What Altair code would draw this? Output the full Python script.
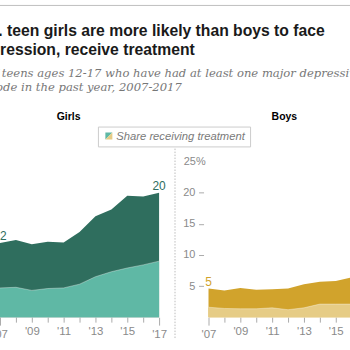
import altair as alt
import pandas as pd

# ---- data ----
years = list(range(2007, 2018))
girls_total = [11.9, 12.4, 11.7, 12.1, 12.0, 13.7, 16.2, 17.3, 19.5, 19.4, 20.0]
girls_treat = [4.7, 4.8, 4.3, 4.6, 4.7, 5.3, 6.5, 7.3, 7.9, 8.4, 9.0]
boys_total = [4.6, 4.3, 4.7, 4.4, 4.5, 4.6, 5.3, 5.7, 5.8, 6.4, 6.8]
boys_treat = [1.6, 1.4, 1.35, 1.35, 1.5, 1.2, 1.5, 2.1, 2.1, 2.1, 2.2]
y_ticks = [5, 10, 15, 20, 25]

title_lines = ["U.S. teen girls are more likely than boys to face",
               "depression, receive treatment"]
subtitle_lines = ["% of teens ages 12-17 who have had at least one major depressive",
                  "episode in the past year, 2007-2017"]
legend_label = "Share receiving treatment"

GIRLS_DARK, GIRLS_LIGHT = "#2f6e5e", "#5fb8a5"
BOYS_DARK, BOYS_LIGHT = "#d1a32c", "#e6cc86"
AXIS_GRAY = "#8a8a8a"
TICK_GRAY = "#aaaaaa"
SANS = "Liberation Sans"

W, H = 160, 156.5

x_label_expr = "datum.value % 2 == 1 ? \"'\" + substring(toString(datum.value), 2, 4) : ''"


def x_enc():
    return alt.X(
        "year:Q",
        title=None,
        scale=alt.Scale(domain=[2007, 2017], nice=False, zero=False),
        axis=alt.Axis(
            values=years, labelExpr=x_label_expr, domain=False, grid=False,
            tickColor=TICK_GRAY,
            tickSize={"condition": {"test": "datum.value == 2007 || datum.value == 2017", "value": 8}, "value": 5},
            labelColor=AXIS_GRAY, labelFont=SANS, labelFontSize=11.5,
            labelPadding=3, labelFlush=False, labelOverlap=False, labelBound=False,
        ),
    )


def y_enc(field, show_axis):
    if show_axis:
        axis = alt.Axis(
            values=y_ticks, domain=False, grid=False, offset=5, tickSize=5,
            tickColor=TICK_GRAY,
            tickOpacity={"condition": {"test": "datum.value == 25", "value": 0}, "value": 1},
            labelExpr="datum.value == 25 ? '25%' : datum.label",
            labelAlign={"condition": {"test": "datum.value == 25", "value": "left"}, "value": "right"},
            labelPadding={"condition": {"test": "datum.value == 25", "value": 15.4}, "value": 3.7},
            labelColor=AXIS_GRAY, labelFont=SANS, labelFontSize=11,
        )
    else:
        axis = None
    return alt.Y(field, title=None, scale=alt.Scale(domain=[0, 25], nice=False), axis=axis)


def panel(name, total, treat, dark, light, show_axis, title_dx, title_offset):
    df = pd.DataFrame({"year": years, "total": total, "treat": treat})
    base = alt.Chart(df)
    a_total = base.mark_area(color=dark).encode(x=x_enc(), y=y_enc("total:Q", show_axis))
    a_treat = base.mark_area(color=light).encode(x=x_enc(), y=y_enc("treat:Q", show_axis))
    edge = base.mark_line(color="white", strokeWidth=0.8, opacity=0.45).encode(
        x=x_enc(), y=y_enc("treat:Q", show_axis))
    labels = base.transform_filter(
        "datum.year == 2007 || datum.year == 2017"
    ).transform_calculate(
        lab="format(datum.total, '.0f')"
    ).mark_text(color=dark, font=SANS, fontSize=12, dy=-7, align="center").encode(
        x=x_enc(), y=y_enc("total:Q", show_axis), text="lab:N")
    layers = [a_total, a_treat, edge, labels]
    return layers, dict(
        width=W, height=H,
        title=alt.TitleParams(name, font=SANS, fontSize=10.5, fontWeight="bold", color="#000000",
                              anchor="middle", dx=title_dx, offset=title_offset),
    )


g_layers, g_props = panel("Girls", girls_total, girls_treat, GIRLS_DARK, GIRLS_LIGHT, False, -11, 38.8)
b_layers, b_props = panel("Boys", boys_total, boys_treat, BOYS_DARK, BOYS_LIGHT, True, -3.7, 3.6)

leg_df = pd.DataFrame({"t": [legend_label]})
leg = alt.Chart(leg_df)
leg_box = leg.mark_rect(fill="white", stroke="#cccccc", strokeWidth=1).encode(
    x=alt.value(-110.7), x2=alt.value(42.3), y=alt.value(-34.7), y2=alt.value(-14.7))
sw1 = leg.mark_point(shape="M-1,-1L1,-1L-1,1Z", filled=True, size=49, opacity=1,
                     color=GIRLS_LIGHT).encode(x=alt.value(-100.2), y=alt.value(-25.8))
sw2 = leg.mark_point(shape="M1,-1L1,1L-1,1Z", filled=True, size=49, opacity=1,
                     color=BOYS_LIGHT).encode(x=alt.value(-100.2), y=alt.value(-25.8))
leg_text = leg.mark_text(align="left", baseline="alphabetic", font=SANS, fontSize=11.3,
                         fontStyle="italic", color="#7a7a7a").encode(
    x=alt.value(-92.7), y=alt.value(-21.5), text="t:N")
sep = leg.mark_rule(color="#bbbbbb", strokeDash=[1.5, 1.5], strokeWidth=1).encode(
    x=alt.value(-33.7), y=alt.value(-13), y2=alt.value(179))

girls = alt.layer(*g_layers).properties(**g_props)
boys = alt.layer(*b_layers, sep, leg_box, sw1, sw2, leg_text).properties(**b_props)

panels = alt.hconcat(girls, boys, spacing=49.7, bounds="flush").properties(
    title=alt.TitleParams(
        title_lines, subtitle=subtitle_lines, anchor="start", frame="group", dx=-28,
        font=SANS, fontSize=15.8, fontWeight="bold", color="#1a1a1a", lineHeight=20,
        subtitleFont="DejaVu Serif", subtitleFontStyle="italic", subtitleFontSize=11.65,
        subtitleColor="#777777", subtitleLineHeight=14, subtitlePadding=9, offset=18,
    )
)

# top rule spans from x=-40 to x=400 (relative to the Girls plot) -> defines the bounds
header = alt.Chart(pd.DataFrame({"a": [0]})).mark_rule(color="#c0c0c0", strokeWidth=1).encode(
    x=alt.value(-40), x2=alt.value(400), y=alt.value(0)).properties(width=1, height=1)

chart = alt.vconcat(header, panels, spacing=16).properties(
    padding={"left": -41, "top": 3.5, "right": -49, "bottom": 0}
).configure_view(strokeWidth=0)

chart.save("out.html", embed_options={"renderer": "svg", "actions": False})
